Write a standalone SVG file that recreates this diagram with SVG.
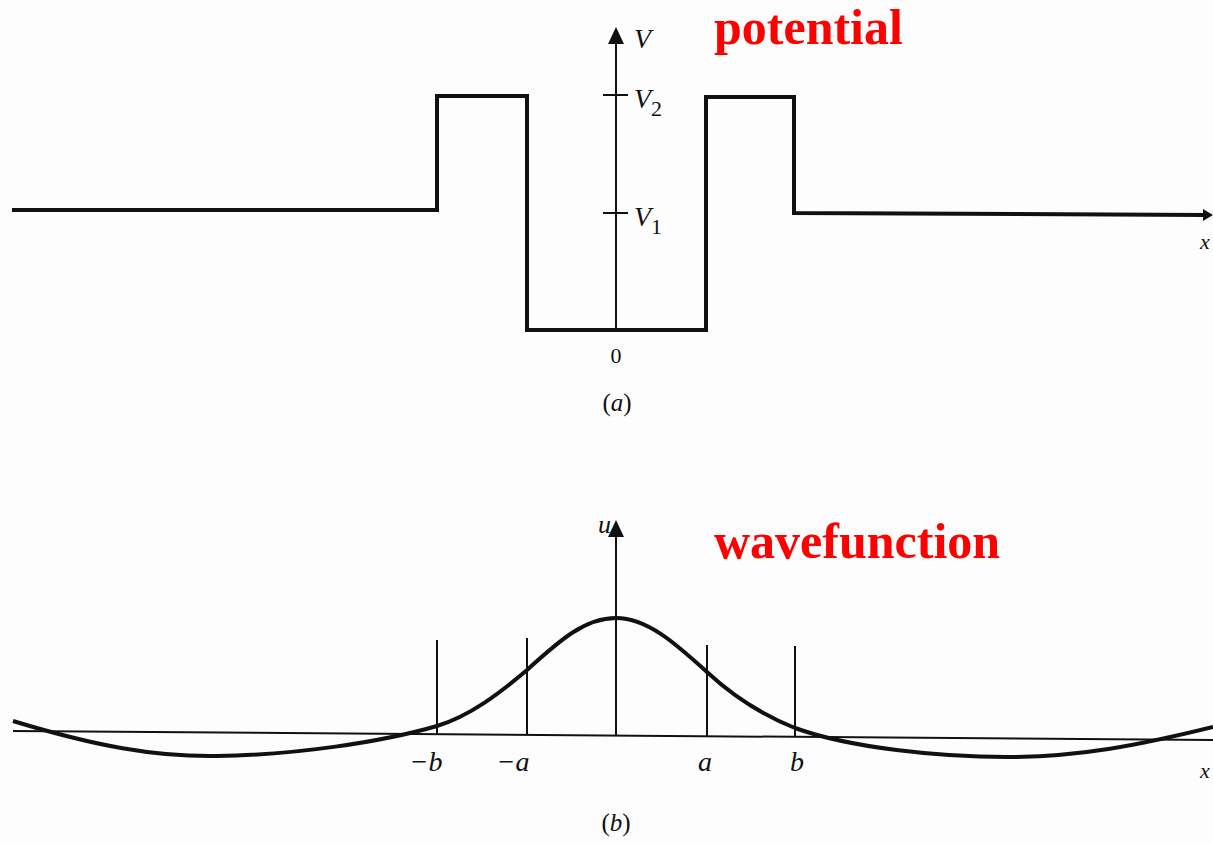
<svg xmlns="http://www.w3.org/2000/svg" width="1213" height="843" viewBox="0 0 1213 843">
<style>
.thick{fill:none;stroke:#111;stroke-width:4;stroke-linejoin:miter}
.thin{fill:none;stroke:#111;stroke-width:2}
.lbl{font-family:"Liberation Serif","Times New Roman",serif;font-style:italic;fill:#111}
.num{font-family:"Liberation Serif","Times New Roman",serif;fill:#111}
.red{font-family:"Liberation Serif","Times New Roman",serif;font-weight:bold;fill:#ff0000;font-size:50px}
</style>
<rect width="1213" height="843" fill="#fdfdfd"/>
<g id="panel-a">
  <g id="potential-curve">
    <path class="thick" d="M12,210 H437 V96 H527 V330 H706 V97 H794 V213 L1205,215"/>
    <polygon points="1213,215 1203,209 1203,221" fill="#111"/>
  </g>
  <g id="v-axis">
    <line class="thin" x1="616" y1="330" x2="616" y2="40"/>
    <polygon points="616,27 608,44 624,44" fill="#111"/>
    <line class="thin" x1="603" y1="95" x2="628" y2="95"/>
    <line class="thin" x1="603" y1="213" x2="628" y2="213"/>
  </g>
  <text class="lbl" x="634" y="48" font-size="28">V</text>
  <text class="lbl" x="634" y="108" font-size="28">V<tspan font-style="normal" font-size="22" dy="8">2</tspan></text>
  <text class="lbl" x="634" y="226" font-size="28">V<tspan font-style="normal" font-size="22" dy="8">1</tspan></text>
  <text class="num" x="616" y="363" font-size="22" text-anchor="middle">0</text>
  <text class="lbl" x="1200" y="249" font-size="22">x</text>
  <text class="num" x="617" y="411" font-size="25" text-anchor="middle">(<tspan font-style="italic">a</tspan>)</text>
  <text class="red" x="714" y="44">potential</text>
</g>
<g id="panel-b">
  <g id="axes-b">
    <line class="thin" x1="13" y1="731" x2="1213" y2="740"/>
    <line class="thin" x1="616" y1="735" x2="616" y2="535"/>
    <polygon points="616,520 608,537 624,537" fill="#111"/>
    <line class="thin" x1="437" y1="640" x2="437" y2="734"/>
    <line class="thin" x1="527" y1="638" x2="527" y2="735"/>
    <line class="thin" x1="707" y1="645" x2="707" y2="736"/>
    <line class="thin" x1="795" y1="646" x2="795" y2="736"/>
  </g>
  <g id="wavefunction-curve">
    <path class="thick" d="M13,721 C95,746 155,757 217,756 C295,755 382,742 437,726 C470,716 500,693 527,670 C560,640 585,618 616,618 C647,618 675,643 707,672 C735,698 765,716 795,728 C850,748 940,757 1007,757 C1080,757 1140,745 1213,727"/>
  </g>
  <text class="lbl" x="598" y="533" font-size="26">u</text>
  <text class="lbl" x="426" y="771" font-size="28" text-anchor="middle">−b</text>
  <text class="lbl" x="513" y="771" font-size="28" text-anchor="middle">−a</text>
  <text class="lbl" x="705" y="771" font-size="28" text-anchor="middle">a</text>
  <text class="lbl" x="797" y="771" font-size="28" text-anchor="middle">b</text>
  <text class="lbl" x="1200" y="778" font-size="22">x</text>
  <text class="num" x="616" y="831" font-size="25" text-anchor="middle">(<tspan font-style="italic">b</tspan>)</text>
  <text class="red" x="714" y="558">wavefunction</text>
</g>
</svg>
